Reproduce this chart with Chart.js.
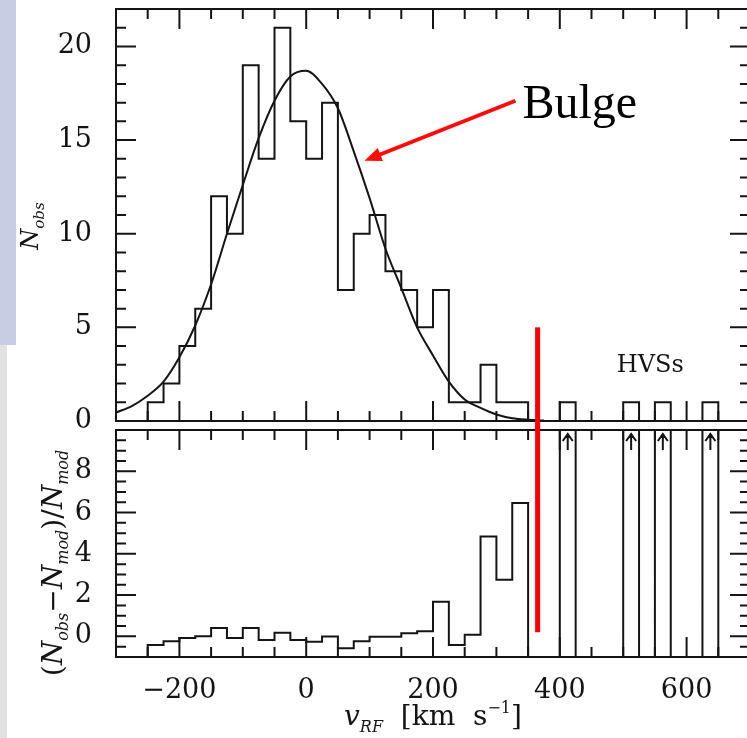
<!DOCTYPE html>
<html>
<head>
<meta charset="utf-8">
<script src="https://cdn.jsdelivr.net/npm/chart.js@4/dist/chart.umd.min.js"></script>
<style>
  html, body { margin: 0; padding: 0; background: #fff; width: 747px; height: 738px; overflow: hidden; position: relative; }
  #strip1 { position: absolute; left: 0; top: 0; width: 16px; height: 345px; background: #c8cde6; }
  #strip2 { position: absolute; left: 0; top: 345px; width: 7px; height: 393px; background: #e2e2e2; }
  canvas { position: absolute; left: 0; }
  #top { top: 0; width: 760px; height: 445px; }
  #bot { top: 425px; width: 760px; height: 313px; }
</style>
</head>
<body>
<div id="strip1"></div>
<div id="strip2"></div>
<canvas id="top" width="760" height="445"></canvas>
<canvas id="bot" width="760" height="313"></canvas>
<script>
// histogram bins, left edge in km/s
const binLeft = [-250, -225, -200, -175, -150, -125, -100, -75, -50, -25,
                 0, 25, 50, 75, 100, 125, 150, 175, 200, 225,
                 250, 275, 300, 325, 350, 375, 400, 425, 450, 475,
                 500, 525, 550, 575, 600, 625];
const binWidth = 25;

// observed counts per bin (top panel)
const nObs = [1, 2, 4, 6, 12, 10, 19, 14, 21, 16,
              14, 17, 7, 10, 11, 8, 7, 5, 7, 1,
              1, 3, 1, 1, 0, 0, 1, 0, 0, 0,
              1, 0, 1, 0, 0, 1];

// residuals (Nobs-Nmod)/Nmod, OFF = off the scale (arrow), null = no bar
const OFF = 99;
const resid = [-0.42, -0.24, -0.08, 0.0, 0.41, -0.08, 0.41, -0.18, 0.18, -0.18,
               -0.26, -0.01, -0.58, -0.24, -0.02, -0.02, 0.15, 0.25, 1.68, -0.42,
               0.08, 4.84, 2.74, 6.46, null, null, OFF, null, null, null,
               OFF, null, OFF, null, null, OFF];

// bulge model curve
const modelV = [-300, -275, -250, -225, -200, -175, -150, -125, -100, -75,
                -50, -25, 0, 25, 50, 75, 100, 125, 150, 175,
                200, 225, 250, 275, 300, 325, 350, 375];
const modelN = [0.45, 0.8, 1.35, 2.1, 3.4, 5.1, 7.3, 10.0, 12.6, 15.1,
                17.1, 18.4, 18.7, 18.0, 16.7, 14.4, 11.9, 9.2, 7.1, 5.0,
                3.5, 2.1, 1.15, 0.7, 0.35, 0.15, 0.07, 0.03];

const xTicks = [-200, 0, 200, 400, 600];
const yTicksTop = [0, 5, 10, 15, 20];
const yTicksBot = [0, 2, 4, 6, 8];

// red cut line and annotations (data coords)
const cutV = 365;
const cutTopY = 5;
const cutBotY = 0.2;
const bulgeTxt = { x: 341, y: 16.2 };
const bulgeFrom = { x: 330, y: 17.1 };
const bulgeTo = { x: 92, y: 13.9 };
const hvsTxt = { x: 490, y: 2.6 };

const ink = "#141414";
const serif = '"DejaVu Serif", serif';

function histPoints(vals, base) {
    const pts = [{ x: binLeft[0], y: base }];
    vals.forEach((v, i) => pts.push({ x: binLeft[i], y: v === null ? base : v }));
    pts.push({ x: binLeft[binLeft.length - 1] + binWidth, y: base });
    return pts;
}

function fmt(v) {
    return v < 0 ? "\u2212" + Math.abs(v) : String(v);
}

// text made of pieces (sub/superscripts), centred on x
function drawParts(ctx, parts, x, y, rot) {
    ctx.save();
    ctx.translate(x, y);
    if (rot) ctx.rotate(rot);
    ctx.textAlign = "left";
    ctx.textBaseline = "alphabetic";
    ctx.fillStyle = ink;
    let w = 0;
    parts.forEach(p => { ctx.font = p.f; w += ctx.measureText(p.t).width; });
    let cx = -w / 2;
    parts.forEach(p => {
        ctx.font = p.f;
        ctx.fillText(p.t, cx, p.dy || 0);
        cx += ctx.measureText(p.t).width;
    });
    ctx.restore();
}

// no extra label padding, the frame sits where the layout says
function noPad(s) {
    s.paddingTop = 0;
    s.paddingBottom = 0;
    s.paddingLeft = 0;
    s.paddingRight = 0;
}

// frame with inward ticks on all four sides + extras
const panelDecor = {
    id: "panelDecor",
    afterDraw(chart, args, opts) {
        const { ctx, chartArea: a, scales: { x, y } } = chart;
        ctx.save();
        ctx.strokeStyle = ink;
        ctx.lineWidth = 2;
        ctx.beginPath();
        for (let v = x.min + opts.xMinor; v < x.max; v += opts.xMinor) {
            const px = x.getPixelForValue(v);
            const len = Math.abs(v % opts.xMajor) < 1e-9 ? 20 : 10;
            ctx.moveTo(px, a.bottom); ctx.lineTo(px, a.bottom - len);
            ctx.moveTo(px, a.top); ctx.lineTo(px, a.top + len);
        }
        for (let v = y.min + opts.yMinor; v < y.max - 1e-9; v += opts.yMinor) {
            const py = y.getPixelForValue(v);
            const len = Math.abs(v % opts.yMajor) < 1e-9 ? 20 : 10;
            ctx.moveTo(a.left, py); ctx.lineTo(a.left + len, py);
            ctx.moveTo(a.right, py); ctx.lineTo(a.right - len, py);
        }
        ctx.stroke();
        ctx.strokeRect(a.left, a.top, a.right - a.left, a.bottom - a.top);
        if (opts.draw) opts.draw(chart, ctx, x, y, a);
        ctx.restore();
    }
};

function drawTop(chart, ctx, x, y, a) {
    // Bulge label + arrow
    ctx.fillStyle = "#000";
    ctx.font = '48px "Liberation Serif", serif';
    ctx.textBaseline = "alphabetic";
    ctx.fillText("Bulge", x.getPixelForValue(bulgeTxt.x), y.getPixelForValue(bulgeTxt.y));
    const x0 = x.getPixelForValue(bulgeFrom.x), y0 = y.getPixelForValue(bulgeFrom.y);
    const x1 = x.getPixelForValue(bulgeTo.x), y1 = y.getPixelForValue(bulgeTo.y);
    const ang = Math.atan2(y1 - y0, x1 - x0);
    ctx.strokeStyle = "#ff0a0a";
    ctx.fillStyle = "#ff0a0a";
    ctx.lineWidth = 4;
    ctx.beginPath();
    ctx.moveTo(x0, y0);
    ctx.lineTo(x1 - 12 * Math.cos(ang), y1 - 12 * Math.sin(ang));
    ctx.stroke();
    ctx.beginPath();
    ctx.moveTo(x1, y1);
    ctx.lineTo(x1 - 17 * Math.cos(ang) + 7 * Math.sin(ang), y1 - 17 * Math.sin(ang) - 7 * Math.cos(ang));
    ctx.lineTo(x1 - 17 * Math.cos(ang) - 7 * Math.sin(ang), y1 - 17 * Math.sin(ang) + 7 * Math.cos(ang));
    ctx.closePath();
    ctx.fill();

    // HVSs label
    ctx.fillStyle = ink;
    ctx.font = "24px " + serif;
    ctx.fillText("HVSs", x.getPixelForValue(hvsTxt.x), y.getPixelForValue(hvsTxt.y));

    // y title
    drawParts(ctx, [
        { t: "N", f: "italic 24px " + serif },
        { t: "obs", f: "italic 15px " + serif, dy: 6 }
    ], 38, 226, -Math.PI / 2);

    // red cut line (continues into lower panel)
    ctx.fillStyle = "#ff0000";
    const cx = x.getPixelForValue(cutV);
    const cy = y.getPixelForValue(cutTopY);
    ctx.fillRect(cx - 2.5, cy, 5, a.bottom + 9 - cy);
}

function drawBot(chart, ctx, x, y, a) {
    // arrows for off-scale bins
    ctx.strokeStyle = ink;
    ctx.lineWidth = 2;
    ctx.beginPath();
    resid.forEach((r, i) => {
        if (r !== null && r > y.max) {
            const px = x.getPixelForValue(binLeft[i] + binWidth / 2);
            ctx.moveTo(px, a.top + 20); ctx.lineTo(px, a.top + 4);
            ctx.moveTo(px - 5, a.top + 11); ctx.lineTo(px, a.top + 4); ctx.lineTo(px + 5, a.top + 11);
        }
    });
    ctx.stroke();

    // y title
    const f = "italic 28px " + serif, fs = "italic 16px " + serif, fr = "28px " + serif;
    drawParts(ctx, [
        { t: "(", f: fr },
        { t: "N", f: f },
        { t: "obs", f: fs, dy: 6 },
        { t: "\u2212", f: fr },
        { t: "N", f: f },
        { t: "mod", f: fs, dy: 6 },
        { t: ")/", f: fr },
        { t: "N", f: f },
        { t: "mod", f: fs, dy: 6 }
    ], 62, 138, -Math.PI / 2);

    // x title
    drawParts(ctx, [
        { t: "v", f: "italic 28px " + serif },
        { t: "RF", f: "italic 16px " + serif, dy: 7 },
        { t: "  [km  s", f: "28px " + serif },
        { t: "\u22121", f: "16px " + serif, dy: -12 },
        { t: "]", f: "28px " + serif }
    ], (a.left + a.right) / 2, 300);

    // red cut line (from upper panel)
    ctx.fillStyle = "#ff0000";
    const cx = x.getPixelForValue(cutV);
    ctx.fillRect(cx - 2.5, 0, 5, y.getPixelForValue(cutBotY));
}

const tickFont = { family: serif, size: 27 };

new Chart(document.getElementById("top"), {
    type: "line",
    data: {
        datasets: [
            {
                data: histPoints(nObs, 0),
                stepped: "before",
                borderColor: ink,
                borderWidth: 2,
                pointRadius: 0,
                fill: false
            },
            {
                data: modelV.map((v, i) => ({ x: v, y: modelN[i] })),
                borderColor: ink,
                borderWidth: 2,
                pointRadius: 0,
                cubicInterpolationMode: "monotone",
                fill: false
            }
        ]
    },
    options: {
        responsive: false,
        animation: false,
        events: [],
        layout: { padding: { top: 9, right: 10, bottom: 24, left: 0 } },
        plugins: {
            legend: { display: false },
            tooltip: { enabled: false },
            panelDecor: { xMinor: 50, xMajor: 200, yMinor: 1, yMajor: 5, draw: drawTop }
        },
        scales: {
            x: { type: "linear", min: -300, max: 700, display: false },
            y: {
                type: "linear", min: 0, max: 22,
                grid: { display: false },
                border: { display: false },
                afterFit: s => { s.width = 116; noPad(s); },
                afterBuildTicks: s => { s.ticks = yTicksTop.map(v => ({ value: v })); },
                ticks: { font: tickFont, color: ink, padding: 16 }
            }
        }
    },
    plugins: [panelDecor]
});

new Chart(document.getElementById("bot"), {
    type: "line",
    data: {
        datasets: [
            {
                data: histPoints(resid, -1),
                stepped: "before",
                borderColor: ink,
                borderWidth: 2,
                pointRadius: 0,
                fill: false
            }
        ]
    },
    options: {
        responsive: false,
        animation: false,
        events: [],
        layout: { padding: { top: 5, right: 10, bottom: 0, left: 0 } },
        plugins: {
            legend: { display: false },
            tooltip: { enabled: false },
            panelDecor: { xMinor: 50, xMajor: 200, yMinor: 0.5, yMajor: 2, draw: drawBot }
        },
        scales: {
            x: {
                type: "linear", min: -300, max: 700,
                grid: { display: false },
                border: { display: false },
                afterFit: s => { s.height = 81; noPad(s); },
                afterBuildTicks: s => { s.ticks = xTicks.map(v => ({ value: v })); },
                ticks: { font: tickFont, color: ink, padding: 10, maxRotation: 0, autoSkip: false, callback: v => fmt(v) }
            },
            y: {
                type: "linear", min: -1, max: 10,
                grid: { display: false },
                border: { display: false },
                afterFit: s => { s.width = 116; noPad(s); },
                afterBuildTicks: s => { s.ticks = yTicksBot.map(v => ({ value: v })); },
                ticks: { font: tickFont, color: ink, padding: 16 }
            }
        }
    },
    plugins: [panelDecor]
});
</script>
</body>
</html>
